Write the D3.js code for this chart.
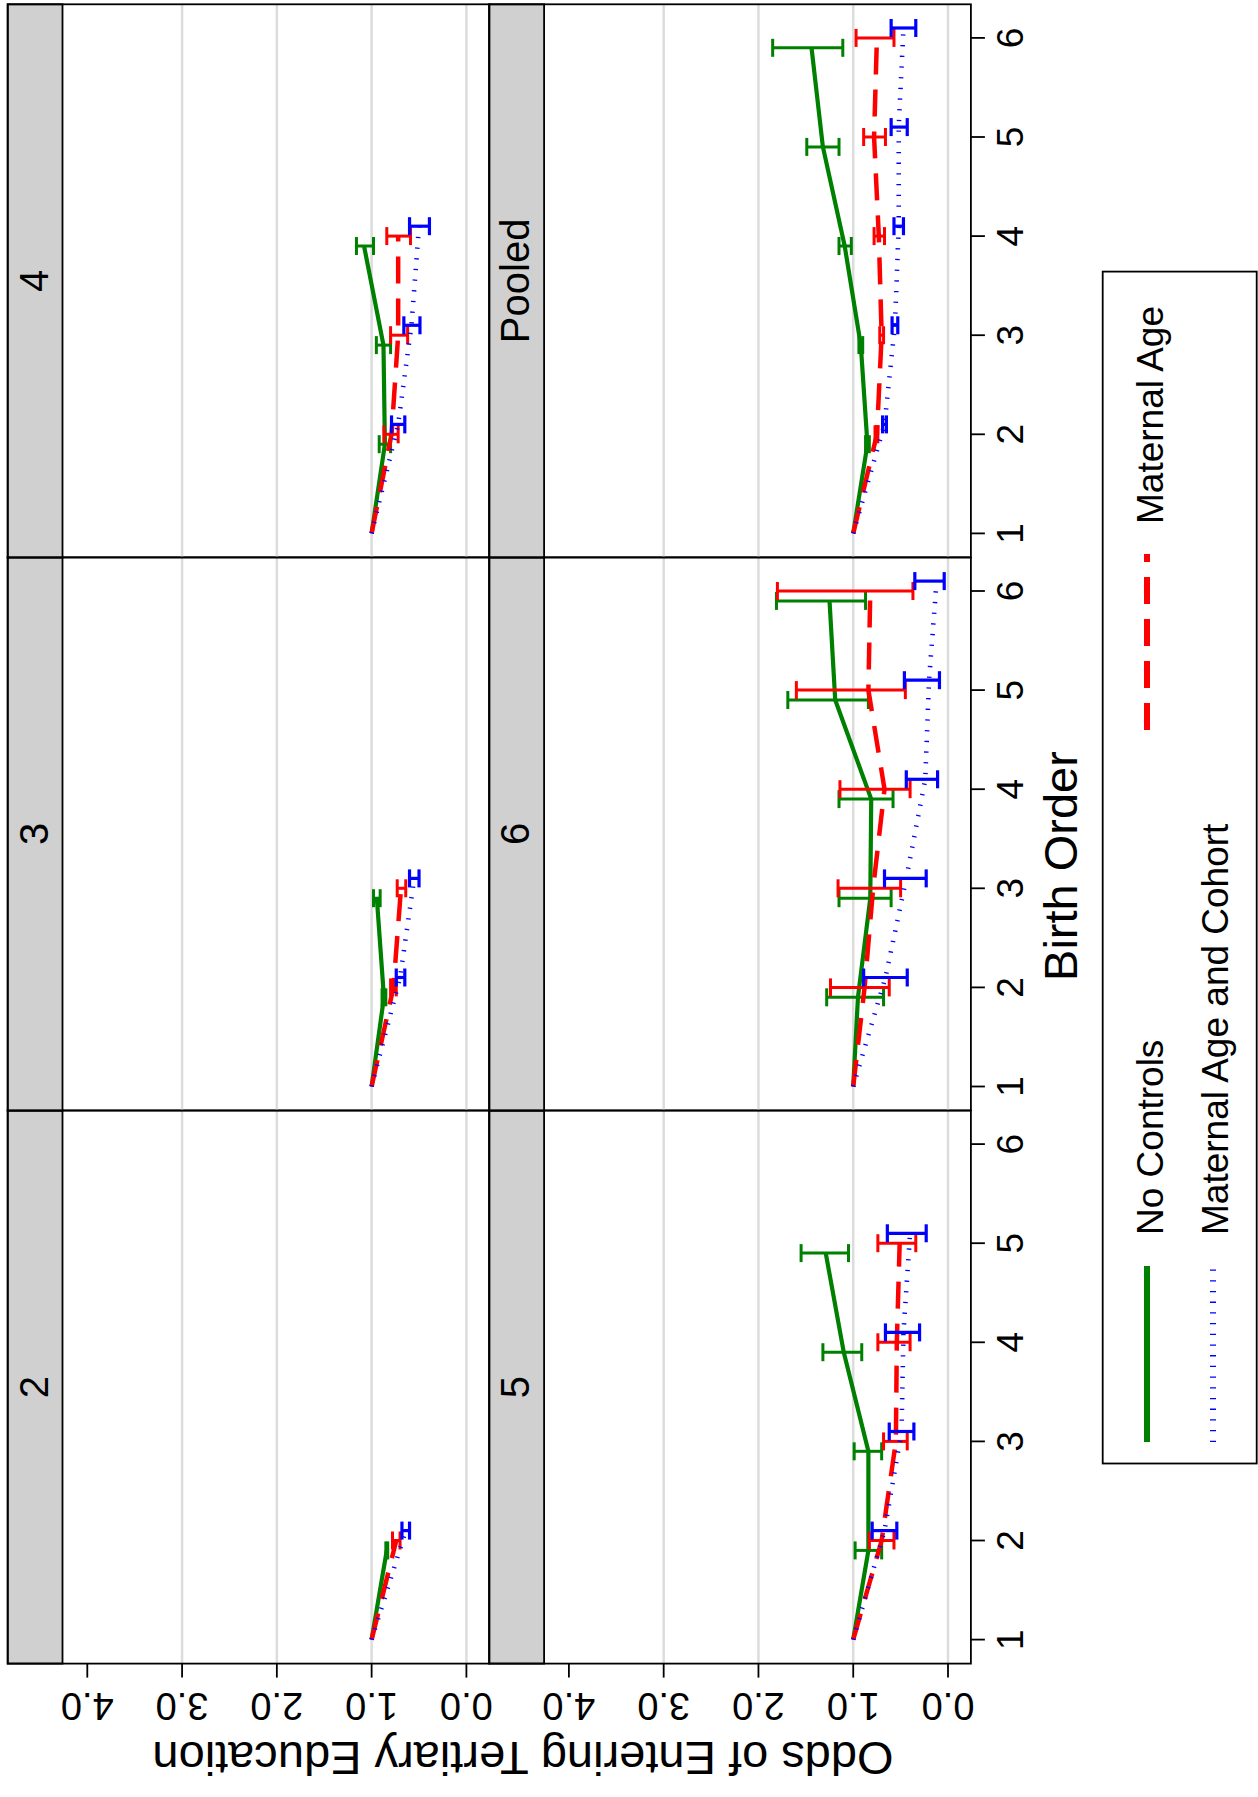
<!DOCTYPE html>
<html>
<head>
<meta charset="utf-8">
<script src="https://cdn.jsdelivr.net/npm/d3@7"></script>
<style>
  body { margin: 0; background: #fff; }
  svg { display: block; }
  text { font-family: "Liberation Sans", Arial, Helvetica, sans-serif; fill: #000; }
</style>
</head>
<body>
<svg id="chart" width="1258" height="1797"></svg>
<script>
// ---- data -------------------------------------------------------------
const panelNames = ["2", "3", "4", "5", "6", "Pooled"];
const birthOrders = [1, 2, 3, 4, 5, 6];
const valueTicks = [0, 1, 2, 3, 4];
const valueTickLabels = ["0.0", "1.0", "2.0", "3.0", "4.0"];
const gridValues = [0, 1, 2, 3];
const seriesNames = ["No Controls", "Maternal Age", "Maternal Age and Cohort"];
const xTitle = "Birth Order";
const yTitle = "Odds of Entering Tertiary Education";

// odds ratios by birth order (first entry = birth order 1, reference), one row per panel
const noControlsEst = [
  [1, 0.84],
  [1, 0.87, 0.945],
  [1, 0.86, 0.875, 1.08],
  [1, 0.84, 0.84, 1.10, 1.29],
  [1, 0.95, 0.82, 0.81, 1.19, 1.25],
  [1, 0.85, 0.92, 1.09, 1.32, 1.44]
];
const noControlsLo = [
  [null, 0.83],
  [null, 0.85, 0.91],
  [null, 0.80, 0.80, 0.98],
  [null, 0.70, 0.70, 0.91, 1.05],
  [null, 0.68, 0.60, 0.58, 0.84, 0.87],
  [null, 0.83, 0.90, 1.02, 1.15, 1.11]
];
const noControlsHi = [
  [null, 0.85],
  [null, 0.89, 0.98],
  [null, 0.92, 0.95, 1.16],
  [null, 0.98, 0.99, 1.32, 1.55],
  [null, 1.28, 1.15, 1.15, 1.69, 1.81],
  [null, 0.87, 0.94, 1.15, 1.49, 1.85]
];

const maternalAgeEst = [
  [1, 0.74],
  [1, 0.77, 0.69],
  [1, 0.79, 0.72, 0.72],
  [1, 0.70, 0.55, 0.54, 0.51],
  [1, 0.88, 0.79, 0.67, 0.84, 0.82],
  [1, 0.75, 0.70, 0.73, 0.78, 0.75]
];
const maternalAgeLo = [
  [null, 0.70],
  [null, 0.74, 0.64],
  [null, 0.72, 0.62, 0.59],
  [null, 0.57, 0.43, 0.40, 0.34],
  [null, 0.62, 0.50, 0.40, 0.45, 0.37],
  [null, 0.74, 0.68, 0.67, 0.66, 0.57]
];
const maternalAgeHi = [
  [null, 0.78],
  [null, 0.80, 0.73],
  [null, 0.87, 0.80, 0.84],
  [null, 0.83, 0.68, 0.74, 0.74],
  [null, 1.24, 1.16, 1.14, 1.60, 1.80],
  [null, 0.77, 0.72, 0.78, 0.89, 0.97]
];

const cohortEst = [
  [1, 0.64],
  [1, 0.70, 0.55],
  [1, 0.72, 0.58, 0.50],
  [1, 0.67, 0.49, 0.47, 0.40],
  [1, 0.66, 0.44, 0.24, 0.20, 0.12],
  [1, 0.67, 0.56, 0.52, 0.52, 0.47]
];
const cohortLo = [
  [null, 0.60],
  [null, 0.65, 0.50],
  [null, 0.65, 0.49, 0.39],
  [null, 0.54, 0.36, 0.30, 0.23],
  [null, 0.43, 0.23, 0.11, 0.09, 0.04],
  [null, 0.65, 0.53, 0.47, 0.43, 0.34]
];
const cohortHi = [
  [null, 0.68],
  [null, 0.74, 0.60],
  [null, 0.79, 0.66, 0.60],
  [null, 0.80, 0.62, 0.66, 0.64],
  [null, 0.89, 0.67, 0.44, 0.46, 0.35],
  [null, 0.69, 0.59, 0.57, 0.60, 0.60]
];

// ---- styling ------------------------------------------------------------
const series = [
  { name: seriesNames[0], est: noControlsEst, lo: noControlsLo, hi: noControlsHi,
    color: "#008000", width: 4.2, dash: null, barWidth: 3, dodge: -0.1 },
  { name: seriesNames[1], est: maternalAgeEst, lo: maternalAgeLo, hi: maternalAgeHi,
    color: "#ff0000", width: 4.5, dash: "27,15", barWidth: 3, dodge: 0 },
  { name: seriesNames[2], est: cohortEst, lo: cohortLo, hi: cohortHi,
    color: "#0000ff", width: 4.6, dash: "1.3,9.4", barWidth: 3.2, dodge: 0.1 }
];

// ---- layout (drawn landscape, then turned a quarter turn counter-clockwise) ----
const W = 1797, H = 1258;
const colX0 = 133.4, colW = 553.1;
const rowY0 = 7.7, rowH = 481.6, stripH = 54.8;
const boLeft = 24, boStep = 99.1;
const valZero = 458.7, valFour = 79.6;
const capHalf = 9;

const svg = d3.select("#chart");
const root = svg.append("g").attr("transform", `translate(0,${W}) rotate(-90)`);

panelNames.forEach((name, i) => {
  const r = Math.floor(i / 3), c = i % 3;
  const x0 = colX0 + c * colW, y0 = rowY0 + r * rowH;
  const bo = d3.scaleLinear().domain([1, 6]).range([x0 + boLeft, x0 + boLeft + 5 * boStep]);
  const val = d3.scaleLinear().domain([0, 4]).range([y0 + valZero, y0 + valFour]);
  const g = root.append("g");

  // grid
  g.selectAll("line.grid").data(gridValues).join("line")
    .attr("x1", x0).attr("x2", x0 + colW)
    .attr("y1", d => val(d)).attr("y2", d => val(d))
    .attr("stroke", "#dcdcdc").attr("stroke-width", 2.5);

  // series
  series.forEach(s => {
    const est = s.est[i], lo = s.lo[i], hi = s.hi[i];
    const pts = est.map((v, k) => ({ b: birthOrders[k] + (k === 0 ? 0 : s.dodge), v, lo: lo[k], hi: hi[k] }));
    const bars = pts.filter(p => p.lo !== null);

    const eb = g.append("g").attr("stroke", s.color).attr("stroke-width", s.barWidth).attr("fill", "none");
    eb.selectAll("line.bar").data(bars).join("line")
      .attr("x1", d => bo(d.b)).attr("x2", d => bo(d.b))
      .attr("y1", d => val(d.lo)).attr("y2", d => val(d.hi));
    eb.selectAll("line.capLo").data(bars).join("line")
      .attr("x1", d => bo(d.b) - capHalf).attr("x2", d => bo(d.b) + capHalf)
      .attr("y1", d => val(d.lo)).attr("y2", d => val(d.lo));
    eb.append("g").selectAll("line").data(bars).join("line")
      .attr("x1", d => bo(d.b) - capHalf).attr("x2", d => bo(d.b) + capHalf)
      .attr("y1", d => val(d.hi)).attr("y2", d => val(d.hi));

    const line = d3.line().x(d => bo(d.b)).y(d => val(d.v));
    g.append("path").datum(pts)
      .attr("d", line)
      .attr("fill", "none")
      .attr("stroke", s.color)
      .attr("stroke-width", s.width)
      .attr("stroke-linejoin", "round")
      .attr("stroke-dasharray", s.dash);
  });

  // strip
  g.append("rect").attr("x", x0).attr("y", y0).attr("width", colW).attr("height", stripH)
    .attr("fill", "#d0d0d0").attr("stroke", "#000").attr("stroke-width", 1.8);
  g.append("text").attr("x", x0 + colW / 2).attr("y", y0 + 40)
    .attr("text-anchor", "middle").attr("font-size", 40).text(name);

  // frame
  g.append("rect").attr("x", x0).attr("y", y0).attr("width", colW).attr("height", rowH)
    .attr("fill", "none").attr("stroke", "#000").attr("stroke-width", 1.8);

  // value axis on the first column
  if (c === 0) {
    const ax = g.append("g");
    ax.selectAll("line").data(valueTicks).join("line")
      .attr("x1", x0).attr("x2", x0 - 14)
      .attr("y1", d => val(d)).attr("y2", d => val(d))
      .attr("stroke", "#000").attr("stroke-width", 1.8);
    ax.selectAll("text").data(valueTicks).join("text")
      .attr("transform", d => `translate(${x0 - 29.5},${val(d)}) rotate(-90)`)
      .attr("text-anchor", "middle").attr("font-size", 38)
      .text((d, k) => valueTickLabels[k]);
  }

  // birth order axis on the bottom row
  if (r === 1) {
    const yb = y0 + rowH;
    const ax = g.append("g");
    ax.selectAll("line").data(birthOrders).join("line")
      .attr("x1", d => bo(d)).attr("x2", d => bo(d))
      .attr("y1", yb).attr("y2", yb + 14)
      .attr("stroke", "#000").attr("stroke-width", 1.8);
    ax.selectAll("text").data(birthOrders).join("text")
      .attr("x", d => bo(d)).attr("y", yb + 52)
      .attr("text-anchor", "middle").attr("font-size", 37)
      .text(d => d);
  }
});

// axis titles
root.append("text").attr("transform", "translate(55,523) rotate(-90)")
  .attr("text-anchor", "middle").attr("font-size", 47).text(yTitle);
root.append("text").attr("x", 931).attr("y", 1077)
  .attr("text-anchor", "middle").attr("font-size", 47).text(xTitle);

// legend
const lg = root.append("g");
lg.append("rect").attr("x", 333.5).attr("y", 1102.7).attr("width", 1191.9).attr("height", 154)
  .attr("fill", "#fff").attr("stroke", "#000").attr("stroke-width", 1.8);
const legendPos = [
  { x: 355, y: 1147, tx: 562, ty: 1162.5 },
  { x: 1067, y: 1147, tx: 1273, ty: 1162.5 },
  { x: 355, y: 1213, tx: 562, ty: 1228 }
];
series.forEach((s, k) => {
  const p = legendPos[k];
  lg.append("line").attr("x1", p.x).attr("x2", p.x + 176).attr("y1", p.y).attr("y2", p.y)
    .attr("stroke", s.color).attr("stroke-width", 6).attr("stroke-dasharray", s.dash);
  lg.append("text").attr("x", p.tx).attr("y", p.ty).attr("font-size", 37).text(s.name);
});
</script>
</body>
</html>
